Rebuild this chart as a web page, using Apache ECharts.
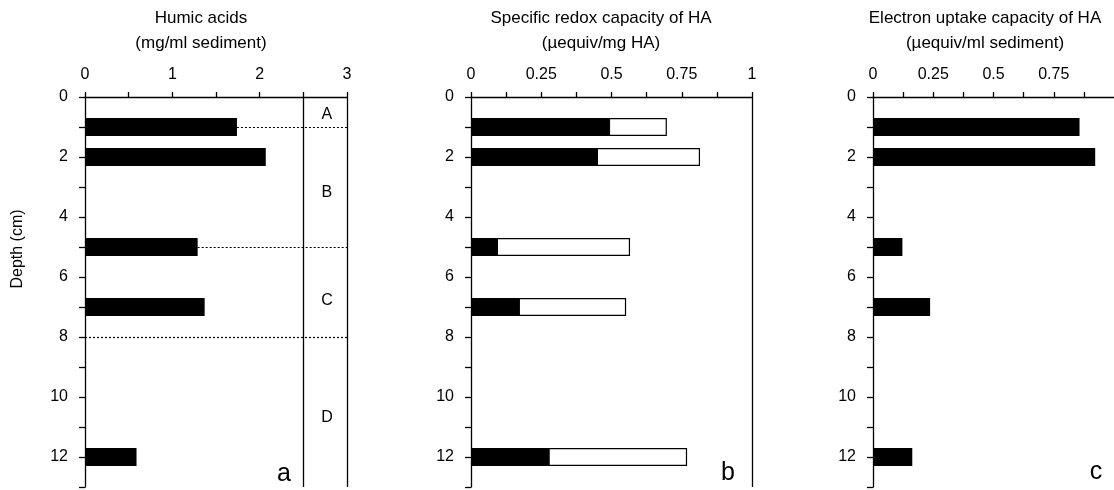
<!DOCTYPE html>
<html>
<head>
<meta charset="utf-8">
<script src="https://cdn.jsdelivr.net/npm/echarts@6/dist/echarts.min.js"></script>
<style>
html,body{margin:0;padding:0;background:#fff;}
#chart{width:1114px;height:490px;}
</style>
</head>
<body>
<div id="chart"></div>
<script>
// ---------- data ----------
const depthCategories = ['0','1','2','3','4','5','6','7','8','9','10','11','12','13'];
const sampleDepths = ['1','2','5','7','12'];

// panel a: humic acids (mg/ml sediment)
const humicAcids = [1.74, 2.07, 1.29, 1.37, 0.59];
// panel b: specific redox capacity of HA (µequiv/mg HA)
const redoxBlack = [0.495, 0.452, 0.096, 0.174, 0.28];
const redoxTotal = [0.697, 0.815, 0.566, 0.552, 0.769];
// panel c: electron uptake capacity (µequiv/ml sediment)
const electronUptake = [0.857, 0.922, 0.122, 0.237, 0.163];

// zones in panel a
const zoneNames = ['A','B','C','D'];
const zoneLabelDepth = [0.6, 3.17, 6.8, 10.7];
const zoneBoundaryDepth = [1, 5, 8];
const zoneBoundaryStart = [1.74, 1.29, 0];

// tick labels
const depthLabels = ['0','2','4','6','8','10','12'];
const xLabelsA = [0, 1, 2, 3];
const xLabelsB = [0, 0.25, 0.5, 0.75, 1];
const xLabelsC = [0, 0.25, 0.5, 0.75];

const titlesLine1 = ['Humic acids', 'Specific redox capacity of HA', 'Electron uptake capacity of HA'];
const titlesLine2 = ['(mg/ml sediment)', '(\u00b5equiv/mg HA)', '(\u00b5equiv/ml sediment)'];
const panelLetters = ['a', 'b', 'c'];

// ---------- chart ----------
const FONT = 'Arial, "Liberation Sans", sans-serif';
const chart = echarts.init(document.getElementById('chart'), null, {renderer: 'canvas'});

const grids = [
  {left: 85, top: 97, width: 262, height: 390},
  {left: 471, top: 97, width: 281, height: 390},
  {left: 873, top: 97, width: 245, height: 390}
];

function xAxis(gridIndex, max, interval, labels) {
  return {
    type: 'value', gridIndex, position: 'top', min: 0, max, interval,
    axisLine: {show: true, lineStyle: {color: '#000', width: 1.3}},
    axisTick: {show: true, length: 5, lineStyle: {color: '#000', width: 1.3}},
    splitLine: {show: false},
    axisLabel: {
      show: true, margin: 14, color: '#000', fontSize: 16, fontFamily: FONT,
      showMaxLabel: gridIndex !== 2,
      formatter: v => labels.some(l => Math.abs(l - v) < 1e-9) ? String(v) : ''
    }
  };
}
function yCat(gridIndex) {
  return {
    type: 'category', gridIndex, data: depthCategories, inverse: true, boundaryGap: false,
    axisLine: {show: true, lineStyle: {color: '#000', width: 1.3}},
    axisTick: {show: true, interval: 0, length: 6, lineStyle: {color: '#000', width: 1.3}},
    splitLine: {show: false},
    axisLabel: {
      show: true, margin: 17, color: '#000', fontSize: 16, fontFamily: FONT,
      interval: (i, v) => depthLabels.includes(v)
    }
  };
}
function yVal(gridIndex) {
  return {type: 'value', gridIndex, min: 0, max: 13, inverse: true, show: false, splitLine: {show: false}};
}

const solid = {color: '#000', width: 1.3, type: 'solid'};
const dotted = {color: '#000', width: 1.2, type: [2, 2]};

const markLinesA = [
  [{coord: [2.5, 0], lineStyle: solid}, {coord: [2.5, 13]}],
  [{coord: [3, 0], lineStyle: solid}, {coord: [3, 13]}]
].concat(zoneBoundaryDepth.map((d, i) => [
  {coord: [zoneBoundaryStart[i], d], lineStyle: dotted}, {coord: [3, d]}
]));

const series = [
  {
    type: 'bar', xAxisIndex: 0, yAxisIndex: 0, barWidth: 18,
    encode: {x: 0, y: 1},
    itemStyle: {color: '#000'},
    data: sampleDepths.map((d, i) => [humicAcids[i], d]),
    animation: false
  },
  {
    type: 'scatter', xAxisIndex: 0, yAxisIndex: 1, symbolSize: 0.01,
    itemStyle: {color: '#000', opacity: 1},
    data: zoneNames.map((n, i) => ({name: n, value: [2.77, zoneLabelDepth[i]]})),
    label: {show: true, position: 'inside', formatter: '{b}', color: '#000', fontSize: 16,
      fontFamily: FONT, textBorderWidth: 0, textBorderColor: 'transparent'},
    markLine: {silent: true, symbol: 'none', label: {show: false}, animation: false, data: markLinesA},
    silent: true, animation: false
  },
  {
    type: 'bar', xAxisIndex: 1, yAxisIndex: 2, barWidth: 18, barGap: '-100%',
    encode: {x: 0, y: 1},
    itemStyle: {color: '#fff', borderColor: '#000', borderWidth: 1.2},
    data: sampleDepths.map((d, i) => [redoxTotal[i], d]),
    animation: false
  },
  {
    type: 'bar', xAxisIndex: 1, yAxisIndex: 2, barWidth: 18, barGap: '-100%',
    encode: {x: 0, y: 1},
    itemStyle: {color: '#000', borderColor: '#000', borderWidth: 1},
    data: sampleDepths.map((d, i) => [redoxBlack[i], d]),
    animation: false
  },
  {
    type: 'scatter', xAxisIndex: 1, yAxisIndex: 3, symbolSize: 0.01, data: [],
    markLine: {silent: true, symbol: 'none', label: {show: false}, animation: false,
      data: [[{coord: [1, 0], lineStyle: solid}, {coord: [1, 13]}]]},
    silent: true, animation: false
  },
  {
    type: 'bar', xAxisIndex: 2, yAxisIndex: 4, barWidth: 18,
    encode: {x: 0, y: 1},
    itemStyle: {color: '#000'},
    data: sampleDepths.map((d, i) => [electronUptake[i], d]),
    animation: false
  }
];

const titleCenters = [201, 601, 985];
const letterPos = [[284, 474], [728, 473], [1096, 472]];
const graphics = [];
titlesLine1.forEach((t, i) => {
  graphics.push({type: 'text', style: {text: t, x: titleCenters[i], y: 18, textAlign: 'center', align: 'center',
    textVerticalAlign: 'middle', verticalAlign: 'middle', font: '17px ' + FONT, fill: '#000'}});
  graphics.push({type: 'text', style: {text: titlesLine2[i], x: titleCenters[i], y: 43, textAlign: 'center', align: 'center',
    textVerticalAlign: 'middle', verticalAlign: 'middle', font: '17px ' + FONT, fill: '#000'}});
  graphics.push({type: 'text', style: {text: panelLetters[i], x: letterPos[i][0], y: letterPos[i][1], textAlign: 'center', align: 'center',
    textVerticalAlign: 'middle', verticalAlign: 'middle', font: '25px ' + FONT, fill: '#000'}});
});
graphics.push({type: 'text', x: 18, y: 249, rotation: Math.PI / 2,
  style: {text: 'Depth (cm)', x: 0, y: 0, textAlign: 'center', align: 'center',
    textVerticalAlign: 'middle', verticalAlign: 'middle', font: '16px ' + FONT, fill: '#000'}});

chart.setOption({
  backgroundColor: '#fff',
  animation: false,
  grid: grids.map(g => Object.assign({containLabel: false, show: false}, g)),
  xAxis: [xAxis(0, 3, 0.5, xLabelsA), xAxis(1, 1, 0.125, xLabelsB), xAxis(2, 1, 0.125, xLabelsC)],
  yAxis: [yCat(0), yVal(0), yCat(1), yVal(1), yCat(2), yVal(2)],
  series,
  graphic: graphics
});
</script>
</body>
</html>
